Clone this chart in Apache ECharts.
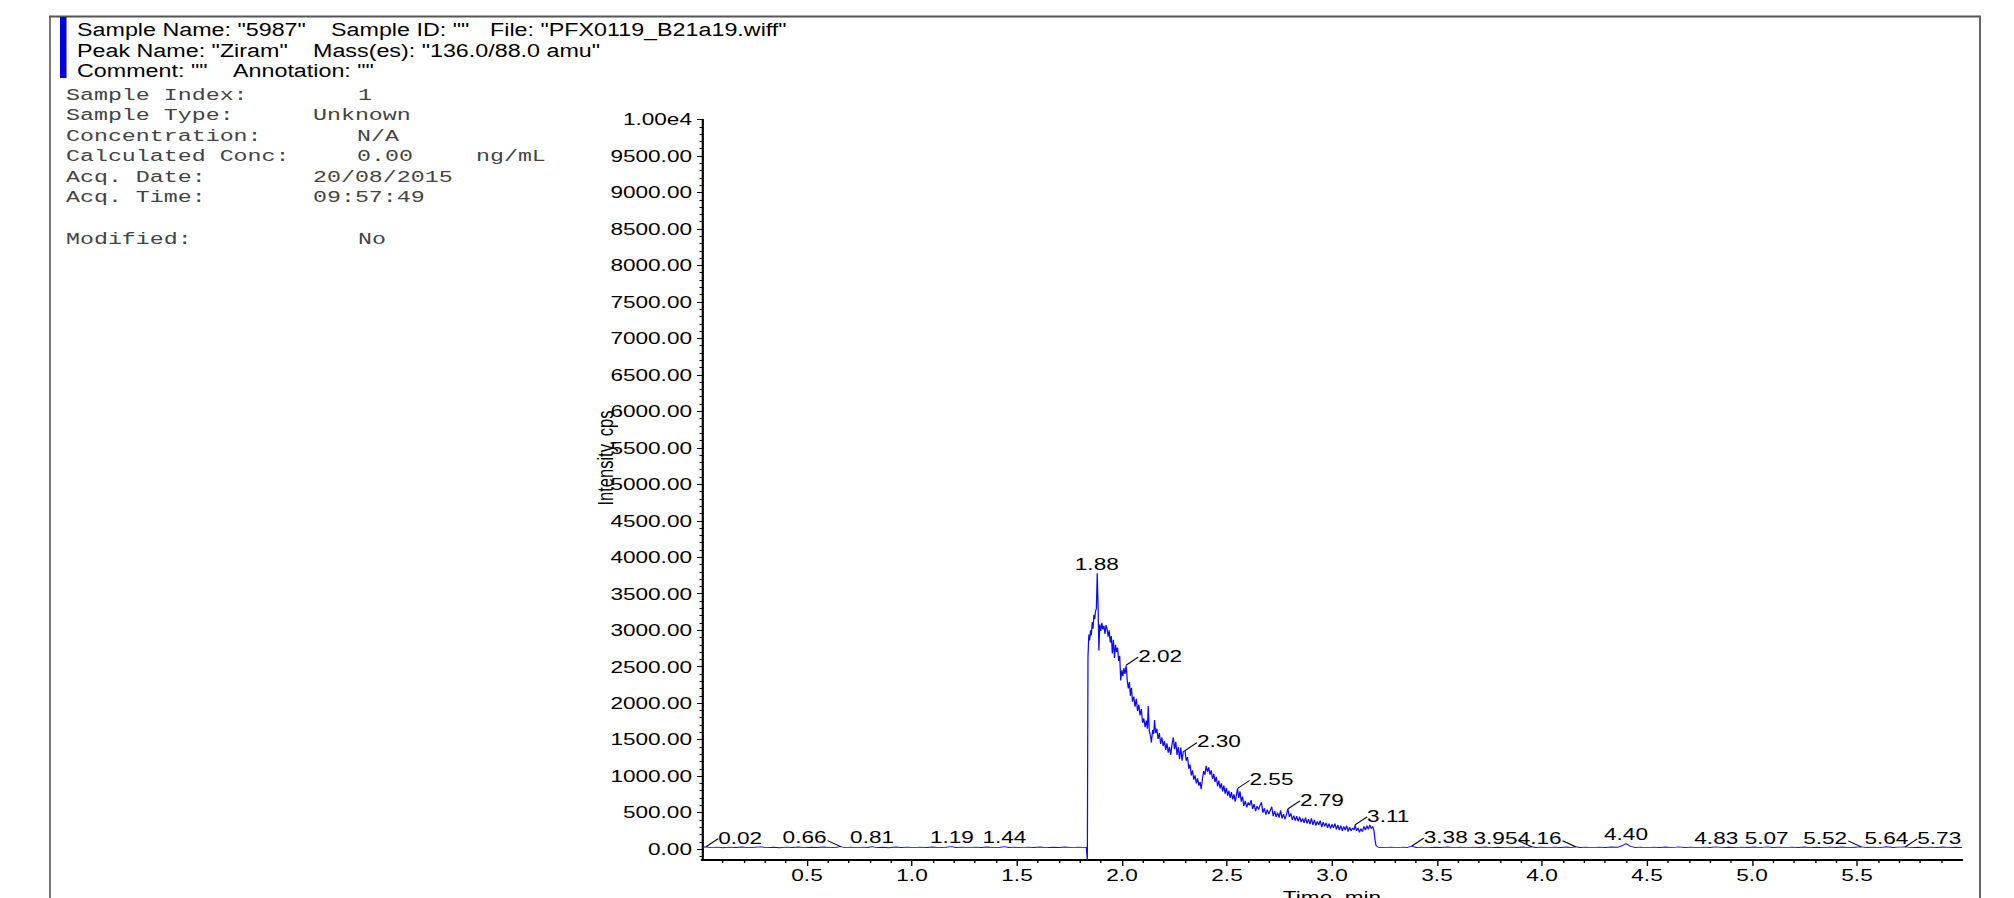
<!DOCTYPE html>
<html><head><meta charset="utf-8">
<script src="https://cdn.jsdelivr.net/npm/echarts@6/dist/echarts.min.js"></script>
<style>
html,body{margin:0;padding:0;background:#fff;overflow:hidden;width:2014px;height:898px;}
#chart{position:absolute;left:0;top:0;height:898px;transform-origin:0 0;}
</style></head><body><div id="chart"></div>
<script>
// ---------- data ----------
const baselineBefore = [
[0.00,22],[0.02,32],[0.04,20],[0.07,26],[0.10,18],[0.13,27],[0.16,21],[0.19,29],[0.22,19],[0.25,24],
[0.28,30],[0.31,20],[0.34,25],[0.37,18],[0.40,27],[0.43,22],[0.46,28],[0.49,19],[0.52,25],[0.55,21],
[0.58,29],[0.61,20],[0.64,24],[0.66,34],[0.68,20],[0.71,26],[0.74,19],[0.77,27],[0.79,22],[0.81,33],
[0.83,20],[0.86,25],[0.89,18],[0.92,28],[0.95,21],[0.98,26],[1.01,19],[1.04,27],[1.07,22],[1.10,29],
[1.13,20],[1.16,25],[1.19,33],[1.21,21],[1.24,27],[1.27,19],[1.30,26],[1.33,22],[1.36,28],[1.39,20],
[1.42,24],[1.44,34],[1.46,21],[1.49,27],[1.52,19],[1.55,26],[1.58,22],[1.61,29],[1.64,20],[1.67,25],
[1.70,21],[1.73,28],[1.76,19],[1.79,26],[1.82,23],[1.83,25]
];
const peakRise = [
[1.835,-150],[1.838,2630],[1.842,2940],[1.846,2860],[1.850,3000],[1.854,2930],[1.858,3110],[1.862,3020],
[1.866,3210],[1.870,3150],[1.874,3260],[1.878,3300],[1.882,3780],[1.886,3340],[1.890,2720],[1.894,3080],
[1.899,2990],[1.904,3100],[1.909,3010],[1.914,3060],[1.919,2950],[1.924,3070],[1.929,3020],[1.934,2910],
[1.939,3000],[1.944,2830],[1.949,2920],[1.954,2680],[1.959,2870],[1.964,2620],[1.969,2800],[1.974,2700],
[1.979,2760],[1.984,2580],[1.989,2650],[1.994,2310],[1.999,2450],[2.004,2370],[2.009,2480],[2.014,2400],
[2.020,2520],[2.025,2310],[2.030,2200],[2.035,2290],[2.040,2100],[2.045,2210],[2.050,2020],[2.056,2090],
[2.062,1950],[2.068,2060],[2.074,1890],[2.080,1980],[2.086,1830],[2.092,1920],[2.098,1730],[2.104,1790],
[2.110,1670],[2.116,1760],[2.121,1650],[2.125,1960],[2.130,1620],[2.135,1560],[2.140,1460],[2.146,1630],
[2.151,1580],[2.155,1770],[2.160,1590],[2.166,1650],[2.172,1510],[2.178,1590],[2.184,1440],[2.190,1530],
[2.196,1410],[2.202,1480],[2.208,1360],[2.214,1450],[2.220,1320],[2.226,1400],[2.232,1290],[2.238,1430],
[2.244,1530],[2.250,1370],[2.256,1470],[2.262,1290],[2.268,1400],[2.274,1230],[2.280,1390],[2.286,1210],
[2.292,1340],[2.300,1350],[2.306,1210],[2.312,1260],[2.318,1100],[2.324,1160],[2.330,1010],[2.336,1080],
[2.342,950],[2.348,1010],[2.354,900],[2.360,970],[2.366,870],[2.372,920],[2.377,820],[2.383,960],
[2.389,1070],[2.395,1020],[2.401,1140],[2.407,1060],[2.413,1120],[2.419,1020],[2.425,1080],[2.431,960],
[2.437,1030],[2.443,920],[2.449,990],[2.455,860],[2.461,940],[2.467,830],[2.473,900],[2.479,790],
[2.485,870],[2.491,760],[2.497,840],[2.503,730],[2.509,800],[2.515,700],[2.521,780],[2.527,680],
[2.533,750],[2.539,650],[2.545,740]
];
const peakTail = [
[2.550,830],[2.556,700],[2.562,790],[2.568,650],[2.574,720],[2.580,590],[2.587,660],[2.594,570],
[2.601,640],[2.608,600],[2.615,670],[2.622,550],[2.629,620],[2.636,520],[2.643,590],[2.650,540],
[2.657,600],[2.664,640],[2.671,500],[2.678,560],[2.685,470],[2.692,540],[2.699,480],[2.706,530],
[2.713,580],[2.720,450],[2.727,520],[2.734,440],[2.741,500],[2.748,430],[2.755,530],[2.762,420],
[2.769,480],[2.776,410],[2.783,470],[2.790,550],[2.797,440],[2.804,490],[2.811,400],[2.818,460],
[2.825,390],[2.832,450],[2.839,380],[2.846,440],[2.853,370],[2.860,420],[2.867,360],[2.874,430],
[2.881,350],[2.888,410],[2.895,340],[2.902,420],[2.909,330],[2.916,400],[2.923,320],[2.930,380],
[2.937,330],[2.944,390],[2.951,300],[2.958,370],[2.965,310],[2.972,360],[2.979,290],[2.986,350],
[2.993,280],[3.000,340],[3.007,290],[3.014,350],[3.021,270],[3.028,330],[3.035,260],[3.042,320],
[3.049,250],[3.056,310],[3.063,260],[3.070,320],[3.077,240],[3.084,300],[3.091,250],[3.098,290],
[3.105,260],[3.110,330],[3.117,250],[3.124,290],[3.131,230],[3.138,280],[3.145,240],[3.152,310],
[3.159,260],[3.166,320],[3.173,270],[3.180,330],[3.187,280],[3.194,310],[3.200,250],[3.205,120],
[3.210,45]
];
const baselineAfter = [
[3.22,25],[3.25,20],[3.28,27],[3.31,19],[3.34,26],[3.36,22],[3.38,40],[3.40,21],[3.43,27],[3.46,19],
[3.49,25],[3.52,22],[3.55,28],[3.58,20],[3.61,26],[3.64,19],[3.67,27],[3.70,22],[3.73,29],[3.76,20],
[3.79,25],[3.82,19],[3.85,27],[3.88,22],[3.91,28],[3.93,20],[3.95,32],[3.97,21],[4.00,26],[4.03,19],
[4.06,27],[4.09,22],[4.12,28],[4.14,20],[4.16,32],[4.18,21],[4.21,26],[4.24,19],[4.27,27],[4.30,22],
[4.33,28],[4.36,24],[4.38,45],[4.40,75],[4.42,40],[4.44,22],[4.47,27],[4.50,19],[4.53,26],[4.56,22],
[4.59,28],[4.62,20],[4.65,30],[4.68,21],[4.71,26],[4.74,19],[4.77,27],[4.80,22],[4.83,30],[4.86,20],
[4.89,25],[4.92,19],[4.95,27],[4.98,22],[5.01,28],[5.04,20],[5.07,30],[5.10,21],[5.13,26],[5.16,19],
[5.19,27],[5.22,22],[5.25,28],[5.28,20],[5.31,25],[5.34,19],[5.37,27],[5.40,22],[5.43,28],[5.46,20],
[5.49,25],[5.52,30],[5.55,21],[5.58,26],[5.61,19],[5.64,31],[5.67,22],[5.70,26],[5.73,30],[5.76,20],
[5.79,25],[5.82,19],[5.85,27],[5.88,22],[5.91,28],[5.94,20],[5.97,25],[6.00,22]
];
const peakTimes  = [0.02,0.66,0.81,1.19,1.44,1.88,2.02,2.30,2.55,2.79,3.11,3.38,3.95,4.16,4.40,4.83,5.07,5.52,5.64,5.73];
const peakValues = [32,34,33,33,34,3780,2520,1350,830,550,330,40,32,32,75,30,30,30,31,30];
const peakLabelSide = ['right','left','up','up','up','up','right','right','right','right','right','right','left','left','up','up','up','left','up','right'];
const yTickValues = [0,500,1000,1500,2000,2500,3000,3500,4000,4500,5000,5500,6000,6500,7000,7500,8000,8500,9000,9500,10000];
const xLabelValues = [0.5,1.0,1.5,2.0,2.5,3.0,3.5,4.0,4.5,5.0,5.5];
const headerLines = [
  [['Sample Name: "5987"',77],['Sample ID: ""',331],['File: "PFX0119_B21a19.wiff"',490]],
  [['Peak Name: "Ziram"',77],['Mass(es): "136.0/88.0 amu"',313]],
  [['Comment: ""',77],['Annotation: ""',233]]
];
const infoRows = [
  [['Sample Index:',66],['1',358]],
  [['Sample Type:',66],['Unknown',313]],
  [['Concentration:',66],['N/A',357]],
  [['Calculated Conc:',66],['0.00',357],['ng/mL',476]],
  [['Acq. Date:',66],['20/08/2015',313]],
  [['Acq. Time:',66],['09:57:49',313]],
  [['Modified:',66],['No',358]]
];

// ---------- layout ----------
const SX = 1.37;
const X = v => v / SX;
const SANS = '"Liberation Sans", Arial, Helvetica, sans-serif';
const MONO = '"Liberation Mono", "Courier New", monospace';
const el = document.getElementById('chart');
el.style.width = (2014 / SX) + 'px';
el.style.transform = 'scaleX(' + SX + ')';

const yMinor = [];
for (let v = -100; v < 10000; v += 100) if (v % 500 !== 0) yMinor.push(v);
const xMinor = [];
for (let i = 1; i < 60; i++) if (i % 5 !== 0) xMinor.push(i / 10);

const graphics = [];
function txt(fx, y, s, size, family, color, sx) {
  graphics.push({type:'text', x:X(fx), y:y, scaleX:sx || 1, silent:true, z:10,
    style:{text:s, fill:color, fontSize:size, fontFamily:family,
      align:'left', textAlign:'left', verticalAlign:'middle', textVerticalAlign:'middle'}});
}
// frame
graphics.push({type:'line', silent:true, shape:{x1:X(49), y1:16.5, x2:X(1981), y2:16.5}, style:{stroke:'#555', lineWidth:2}});
graphics.push({type:'line', silent:true, shape:{x1:X(50), y1:16, x2:X(50), y2:898}, style:{stroke:'#555', lineWidth:1.6/SX}});
graphics.push({type:'line', silent:true, shape:{x1:X(1980), y1:16, x2:X(1980), y2:898}, style:{stroke:'#666', lineWidth:2/SX}});
graphics.push({type:'rect', silent:true, shape:{x:X(60), y:17, width:X(6.5), height:61}, style:{fill:'#0000e6'}});
const headerY = [30, 50.5, 71];
headerLines.forEach((line, i) => line.forEach(([s, fx]) => txt(fx, headerY[i], s, 19, SANS, '#000', 17/19)));
const infoY = [95, 115.5, 136, 156.5, 177, 197.5, 239.5];
infoRows.forEach((row, i) => row.forEach(([s, fx]) => txt(fx, infoY[i], s, 17, MONO, '#444')));
graphics.push({type:'text', x:X(605), y:458, rotation:Math.PI/2, silent:true,
  style:{text:'Intensity, cps', fill:'#000', fontSize:16.5, fontFamily:SANS,
    align:'center', textAlign:'center', verticalAlign:'middle', textVerticalAlign:'middle'}});

const axisFont = {fontSize:16.5, fontFamily:SANS, color:'#000'};
const chart = echarts.init(el, null, {renderer:'svg', width:2014 / SX, height:898});
chart.setOption({
  animation:false,
  backgroundColor:'#fff',
  grid:{left:X(702), right:X(2014-1962), top:119.5, bottom:38, containLabel:false, outerBoundsMode:'none'},
  xAxis:[{
    type:'value', min:0, max:6, position:'bottom',
    name:'Time, min', nameLocation:'middle', nameGap:27,
    nameTextStyle:Object.assign({verticalAlign:'top'}, axisFont),
    axisLine:{show:true, onZero:false, lineStyle:{color:'#000', width:2}},
    axisTick:{show:true, inside:false, length:6, customValues:xLabelValues, lineStyle:{color:'#000', width:1}},
    axisLabel:Object.assign({show:true, margin:7, customValues:xLabelValues, formatter:v => v.toFixed(1)}, axisFont),
    splitLine:{show:false}
  },{
    type:'value', min:0, max:6, position:'bottom',
    axisLine:{show:false, onZero:false},
    axisTick:{show:true, length:3, customValues:xMinor, lineStyle:{color:'#000', width:1}},
    axisLabel:{show:false}, splitLine:{show:false}
  }],
  yAxis:[{
    type:'value', min:-150, max:10000, position:'left',
    axisLine:{show:true, onZero:false, lineStyle:{color:'#000', width:1.6}},
    axisTick:{show:true, length:X(5), customValues:yTickValues, lineStyle:{color:'#000', width:1}},
    axisLabel:Object.assign({show:true, margin:X(10), customValues:yTickValues,
      formatter:v => (v === 10000 ? '1.00e4' : v.toFixed(2))}, axisFont),
    splitLine:{show:false}
  },{
    type:'value', min:-150, max:10000, position:'left',
    axisLine:{show:false, onZero:false},
    axisTick:{show:true, length:X(2.5), customValues:yMinor, lineStyle:{color:'#000', width:1}},
    axisLabel:{show:false}, splitLine:{show:false}
  }],
  series:[{
    type:'line', xAxisIndex:0, yAxisIndex:0, showSymbol:false, symbol:'none',
    clip:false, silent:true,
    lineStyle:{color:'#0a0aff', width:0.9},
    data: baselineBefore.concat(peakRise, peakTail, baselineAfter)
  },{
    type:'custom', xAxisIndex:0, yAxisIndex:0, clip:false, silent:true, z:5,
    data: peakTimes.map((t, i) => [t, peakValues[i]]),
    renderItem: function (params, api) {
      const i = params.dataIndex;
      const p = api.coord([api.value(0), api.value(1)]);
      const side = peakLabelSide[i];
      const s = peakTimes[i].toFixed(2);
      const base = {fill:'#000', fontSize:16.5, fontFamily:SANS, verticalAlign:'middle', textVerticalAlign:'middle'};
      const children = [];
      if (side === 'up') {
        children.push({type:'text', style:Object.assign({text:s, x:p[0], y:p[1]-9, align:'center', textAlign:'center'}, base)});
      } else if (side === 'right') {
        children.push({type:'line', shape:{x1:p[0], y1:p[1], x2:p[0]+X(12), y2:p[1]-8}, style:{stroke:'#000', lineWidth:1}});
        children.push({type:'text', style:Object.assign({text:s, x:p[0]+X(12), y:p[1]-9, align:'left', textAlign:'left'}, base)});
      } else {
        children.push({type:'line', shape:{x1:p[0], y1:p[1], x2:p[0]-X(13), y2:p[1]-6}, style:{stroke:'#000', lineWidth:1}});
        children.push({type:'text', style:Object.assign({text:s, x:p[0]-X(14), y:p[1]-9, align:'right', textAlign:'right'}, base)});
      }
      return {type:'group', children:children};
    }
  }],
  graphic: graphics
});
</script></body></html>
